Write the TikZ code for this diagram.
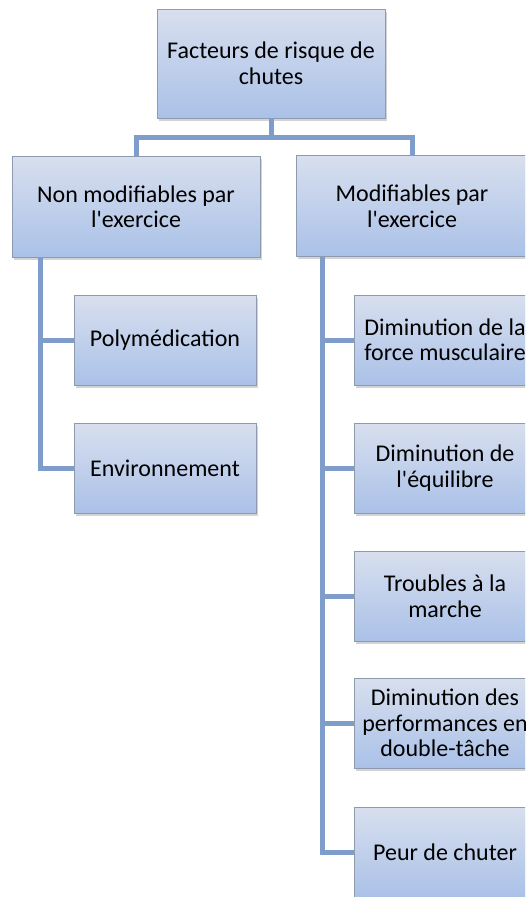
\documentclass[tikz,border=0pt]{standalone}
\usepackage{fontspec}
\setmainfont{Carlito}
\usepackage{tikz}
\usetikzlibrary{positioning, shadows}
\definecolor{boxtop}{HTML}{D8DFEE}
\definecolor{boxbot}{HTML}{AAC1E8}
\definecolor{boxline}{HTML}{8E9AAE}
\definecolor{connblue}{HTML}{7F9DCB}
\tikzset{
  riskbox/.style={draw=boxline, line width=0.9pt, top color=boxtop, bottom color=boxbot,
    align=center, inner sep=2pt, font=\fontsize{24}{25.5}\selectfont,
    drop shadow={opacity=0.35, shadow xshift=1.5pt, shadow yshift=-2.5pt}},
  leafbox/.style={riskbox, minimum width=182pt, minimum height=90pt},
  conn/.style={connblue, line width=5pt},
}
\begin{document}
\begin{tikzpicture}[x=1pt,y=-1pt]
  \useasboundingbox (0,0) rectangle (525,897);
  \clip (0,0) rectangle (525,897);
  % racine et deux branches
  \node[riskbox, minimum width=228pt, minimum height=109pt] (root) at (271,63.5) {Facteurs de risque de\\chutes};
  \node[riskbox, minimum width=248pt, minimum height=101pt] (nonmod) at (136,206.5) {Non modifiables par\\l\textquotesingle exercice};
  \node[riskbox, minimum width=232pt, minimum height=101pt] (mod) at (412,206) {Modifiables par\\l\textquotesingle exercice};
  \coordinate (bus) at (271,137.5);
  \draw[conn] (root.south) -- (bus);
  \draw[conn] (nonmod.north) |- (bus) -| (mod.north);
  % facteurs non modifiables
  \node[leafbox] (poly) at (165,340.5) {Polymédication};
  \node[leafbox] (envi) at (165,468) {Environnement};
  \coordinate (lstem) at (40,257);
  \foreach \n in {poly,envi}
    \draw[conn] (lstem) |- (\n.west);
  % facteurs modifiables
  \node[leafbox] (force) at (445,340) {Diminution de la\\force musculaire};
  \node[leafbox] (equi) at (445,468) {Diminution de\\l\textquotesingle équilibre};
  \node[leafbox] (marche) at (445,596) {Troubles à la\\marche};
  \node[leafbox] (tache) at (445,723) {Diminution des\\performances en\\double-tâche};
  \node[leafbox] (peur) at (445,852) {Peur de chuter};
  \coordinate (rstem) at (322,257);
  \foreach \n in {force,equi,marche,tache,peur}
    \draw[conn] (rstem) |- (\n.west);
\end{tikzpicture}
\end{document}
